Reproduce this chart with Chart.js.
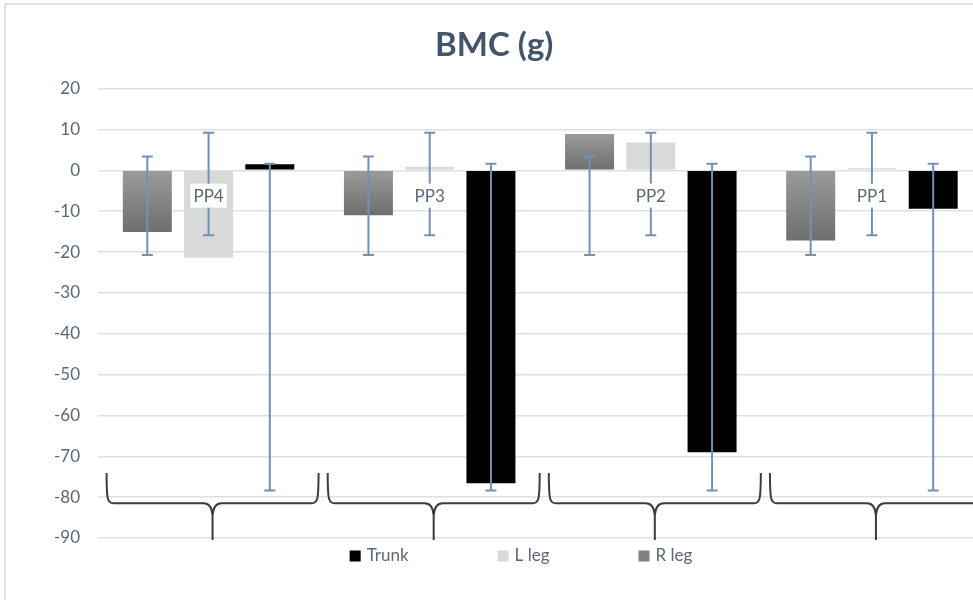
<!DOCTYPE html>
<html lang="en">
<head>
    <meta charset="UTF-8">
    <title>BMC (g)</title>
    <script src="https://cdn.jsdelivr.net/npm/chart.js@4.4.1/dist/chart.umd.min.js"></script>
    <style>
        body { margin: 0; background: #fff; overflow: hidden; }
        #frame { position: absolute; left: 4px; top: 3px; width: 1010px; height: 620px;
                 border-left: 2px solid #dde1e7; border-top: 2px solid #dde1e7; }
        #chart { display: block; }
    </style>
</head>
<body>
    <div id="frame">
        <canvas id="chart" width="1000" height="600"></canvas>
    </div>

    <script>
        // chart data
        const categories = ['PP4', 'PP3', 'PP2', 'PP1'];
        const rLeg  = [-15.1, -11.0, 8.9, -17.2];
        const lLeg  = [-21.4, 0.9, 6.8, 0.5];
        const trunk = [1.5, -76.6, -69.0, -9.4];

        // error bar ends (upper / lower) per series
        const rLegErrHigh  = [3.4, 3.4, 3.4, 3.4];
        const rLegErrLow   = [-20.7, -20.7, -20.7, -20.7];
        const lLegErrHigh  = [9.2, 9.2, 9.2, 9.2];
        const lLegErrLow   = [-15.9, -15.9, -15.9, -15.9];
        const trunkErrHigh = [1.6, 1.6, 1.6, 1.6];
        const trunkErrLow  = [-78.4, -78.4, -78.4, -78.4];

        const yTicks = [20, 10, 0, -10, -20, -30, -40, -50, -60, -70, -80, -90];

        const textColor = '#5b6777';
        const errColor = '#7590b5';
        Chart.defaults.font.family = 'Lato, "Open Sans", sans-serif';

        // gray gradient for the R leg bars, one per bar
        function rLegFill(c) {
            const chart = c.chart;
            if (!chart.chartArea || c.type !== 'data') return '#808080';
            const y = chart.scales.y;
            const top = y.getPixelForValue(Math.max(c.raw, 0));
            const bot = y.getPixelForValue(Math.min(c.raw, 0));
            if (bot - top < 1) return '#808080';
            const g = chart.ctx.createLinearGradient(0, top, 0, bot);
            g.addColorStop(0, '#9b9b9b');
            g.addColorStop(1, '#6e6e6e');
            return g;
        }

        const errors = [
            [rLegErrHigh, rLegErrLow],
            [lLegErrHigh, lLegErrLow],
            [trunkErrHigh, trunkErrLow]
        ];

        // error bars, group braces and the PP labels
        const extras = {
            id: 'extras',
            afterDatasetsDraw(chart) {
                const ctx = chart.ctx;
                const x = chart.scales.x, y = chart.scales.y;

                ctx.save();
                ctx.strokeStyle = errColor;
                ctx.lineWidth = 2;
                errors.forEach((pair, i) => {
                    const meta = chart.getDatasetMeta(i);
                    meta.data.forEach((bar, j) => {
                        const hi = y.getPixelForValue(pair[0][j]);
                        const lo = y.getPixelForValue(pair[1][j]);
                        ctx.beginPath();
                        ctx.moveTo(bar.x, hi); ctx.lineTo(bar.x, lo);
                        ctx.moveTo(bar.x - 5.5, hi); ctx.lineTo(bar.x + 5.5, hi);
                        ctx.moveTo(bar.x - 5.5, lo); ctx.lineTo(bar.x + 5.5, lo);
                        ctx.stroke();
                    });
                });

                // braces under each group
                const yTop = y.getPixelForValue(-74.1);
                const yMid = y.getPixelForValue(-81.5);
                const yTip = y.getPixelForValue(-90.5);
                ctx.strokeStyle = '#3c3c3c';
                ctx.lineWidth = 2;
                categories.forEach((c, j) => {
                    const cx = x.getPixelForValue(j) + 4;
                    const L = cx - 106, R = cx + 106;
                    ctx.beginPath();
                    ctx.moveTo(L, yTop);
                    ctx.bezierCurveTo(L, yMid - 3, L + 1, yMid, L + 7, yMid);
                    ctx.lineTo(cx - 9, yMid);
                    ctx.quadraticCurveTo(cx - 1, yMid, cx, yMid + 12);
                    ctx.lineTo(cx, yTip);
                    ctx.moveTo(R, yTop);
                    ctx.bezierCurveTo(R, yMid - 3, R - 1, yMid, R - 7, yMid);
                    ctx.lineTo(cx + 9, yMid);
                    ctx.quadraticCurveTo(cx + 1, yMid, cx, yMid + 12);
                    ctx.stroke();
                });

                // category labels on the L leg bars
                ctx.font = '17px Lato, sans-serif';
                ctx.textAlign = 'center';
                ctx.textBaseline = 'middle';
                const ly = y.getPixelForValue(-6.2);
                const lMeta = chart.getDatasetMeta(1);
                categories.forEach((c, j) => {
                    const bx = lMeta.data[j].x;
                    const w = ctx.measureText(c).width + 6;
                    ctx.fillStyle = '#fff';
                    ctx.fillRect(bx - w / 2, ly - 12, w, 24);
                    ctx.fillStyle = textColor;
                    ctx.fillText(c, bx, ly + 1);
                });
                ctx.restore();
            },
            afterDraw(chart) {
                // legend, in Excel order
                const ctx = chart.ctx;
                const items = [['Trunk', '#000000'], ['L leg', '#d9d9d9'], ['R leg', '#808080']];
                ctx.save();
                ctx.font = '17px Lato, sans-serif';
                ctx.textBaseline = 'middle';
                const box = 11, gap = 6, space = 89;
                const widths = items.map(it => box + gap + ctx.measureText(it[0]).width);
                const total = widths.reduce((a, b) => a + b, 0) + space * (items.length - 1);
                let px = 515 - total / 2;
                const py = 551;
                items.forEach((it, i) => {
                    ctx.fillStyle = it[1];
                    ctx.fillRect(px, py - box / 2, box, box);
                    ctx.fillStyle = textColor;
                    ctx.fillText(it[0], px + box + gap, py);
                    px += widths[i] + space;
                });
                ctx.restore();
            }
        };

        new Chart(document.getElementById('chart'), {
            type: 'bar',
            data: {
                labels: categories,
                datasets: [
                    { label: 'R leg', data: rLeg, backgroundColor: rLegFill },
                    { label: 'L leg', data: lLeg, backgroundColor: '#d9d9d9' },
                    { label: 'Trunk', data: trunk, backgroundColor: '#000000' }
                ]
            },
            options: {
                responsive: false,
                animation: false,
                layout: { padding: { left: 0, right: 23.5, top: 0, bottom: 67 } },
                datasets: { bar: { categoryPercentage: 0.831, barPercentage: 0.8 } },
                plugins: {
                    legend: { display: false },
                    tooltip: { enabled: false },
                    title: {
                        display: true,
                        text: 'BMC (g)',
                        color: '#44546a',
                        font: { size: 33, weight: 'bold' },
                        padding: { top: 21, bottom: 23 }
                    }
                },
                scales: {
                    x: { display: false },
                    y: {
                        min: -90, max: 20,
                        afterFit(s) { s.width = 92; },
                        afterBuildTicks(s) { s.ticks = yTicks.map(v => ({ value: v })); },
                        grid: { color: '#dce0e7', lineWidth: 1.5, drawTicks: false },
                        border: { display: false },
                        ticks: { color: textColor, font: { size: 17 }, padding: 18 }
                    }
                }
            },
            plugins: [extras]
        });
    </script>
</body>
</html>
